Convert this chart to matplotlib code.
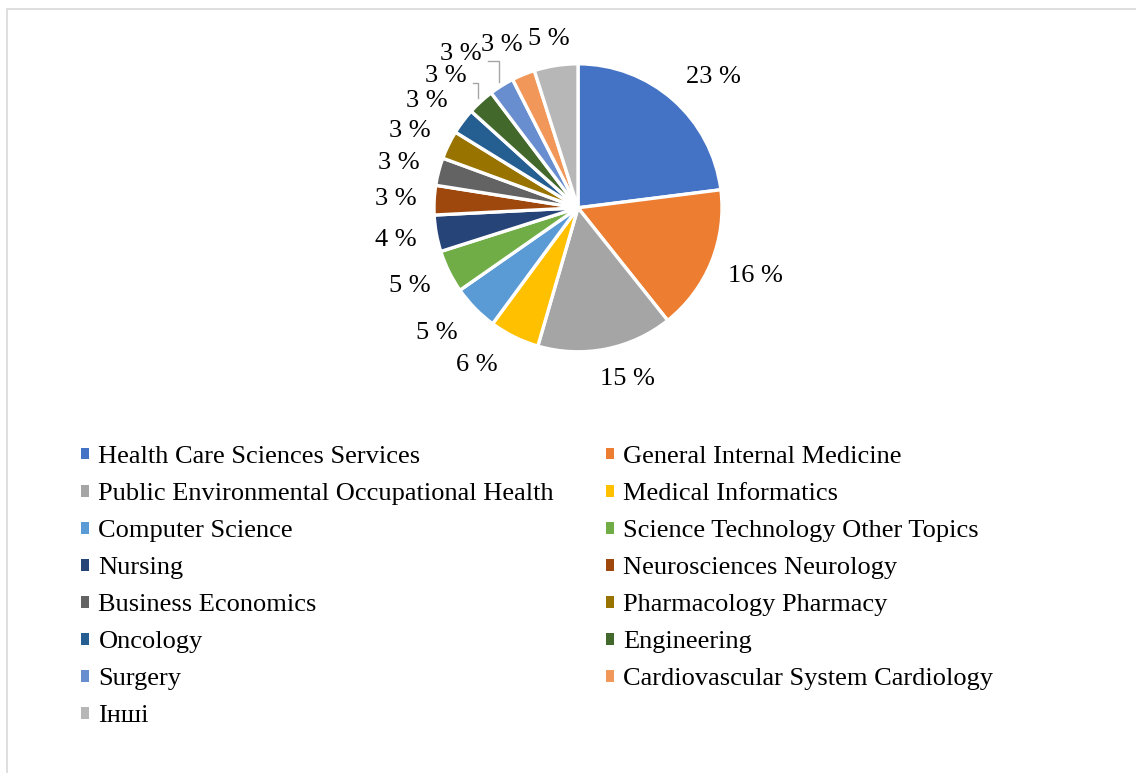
import numpy as np
import matplotlib
matplotlib.use('Agg')
import matplotlib.pyplot as plt
from matplotlib.patches import Patch, Rectangle

plt.rcParams['font.family'] = ['Liberation Serif', 'DejaVu Serif']

CATEGORIES = [
    'Health Care Sciences Services', 'General Internal Medicine',
    'Public Environmental Occupational Health', 'Medical Informatics',
    'Computer Science', 'Science Technology Other Topics',
    'Nursing', 'Neurosciences Neurology',
    'Business Economics', 'Pharmacology Pharmacy',
    'Oncology', 'Engineering',
    'Surgery', 'Cardiovascular System Cardiology',
    'Інші',
]
SHARES = [23.0, 16.3, 15.2, 5.6, 5.2, 4.8, 4.1, 3.3, 3.1, 3.2, 2.9, 3.0, 2.8, 2.6, 4.9]
COLORS = ['#4472C4', '#ED7D31', '#A5A5A5', '#FFC000', '#5B9BD5', '#70AD47',
          '#264478', '#9E480E', '#636363', '#997300', '#255E91', '#43682B',
          '#698ED0', '#F1975A', '#B7B7B7']

# label placement tweaks (degrees off the slice middle, radius in pie radii)
LABEL_NUDGE = [-4.5, 1.2, 4.8, -6.5, -2.7, -1.5, -0.3, 0.3, 0.5, 1.3, 1.6, 2.6, 5.3, 2.6, 0.9]
LABEL_DIST = [1.305, 1.32, 1.24, 1.30, 1.31, 1.29, 1.285, 1.27, 1.285, 1.285, 1.285,
              1.30, 1.345, 1.25, 1.19]
LEADER = [11, 12]  # Engineering, Surgery get elbow leader lines

FS = 19

fig = plt.figure(figsize=(11.36, 7.73), dpi=100)
# thin frame along top and left edge
fig.patches.append(Rectangle((7 / 1136, -0.1), 1.2, 1.1 - 9 / 773, transform=fig.transFigure,
                             fill=False, edgecolor='#d9d9d9', linewidth=1.2))

ax = fig.add_axes([290 / 1136, 1 - 424 / 773, 576 / 1136, 418 / 773])
wedges, _ = ax.pie(SHARES, colors=COLORS, startangle=90, counterclock=False,
                   radius=1.0, wedgeprops=dict(edgecolor='white', linewidth=2.4))
ax.set_xlim(-2, 2)
ax.set_ylim(-1.5, 1.4)
ax.axis('off')

total = float(sum(SHARES))
cum = np.cumsum([0] + SHARES)
for i, v in enumerate(SHARES):
    mid = 90 - 360 * (cum[i] + v / 2) / total
    ang = np.deg2rad(mid + LABEL_NUDGE[i])
    lx, ly = LABEL_DIST[i] * np.cos(ang), LABEL_DIST[i] * np.sin(ang)
    ax.text(lx, ly, f'{round(v)} %', ha='center', va='center', fontsize=FS)
    if i in LEADER:
        ex, ey = 1.03 * np.cos(np.deg2rad(mid)), 1.03 * np.sin(np.deg2rad(mid))
        ax.plot([lx + 0.19, ex, ex], [ly - 0.05, ly - 0.05, ey],
                color='#a6a6a6', linewidth=1.0)

# legend laid out row by row like the original
order = list(range(0, len(CATEGORIES), 2)) + list(range(1, len(CATEGORIES), 2))
handles = [Patch(facecolor=COLORS[k], edgecolor='none') for k in order]
labels = [CATEGORIES[k] for k in order]
fig.legend(handles, labels, ncol=2, loc='upper left',
           bbox_to_anchor=(81 / 1136, 1 - 446 / 773), frameon=False,
           fontsize=FS, handlelength=0.32, handleheight=0.32, handletextpad=0.34,
           labelspacing=0.57, columnspacing=1.95, borderpad=0, borderaxespad=0)

fig.savefig('out.png', dpi=100, facecolor='white')
